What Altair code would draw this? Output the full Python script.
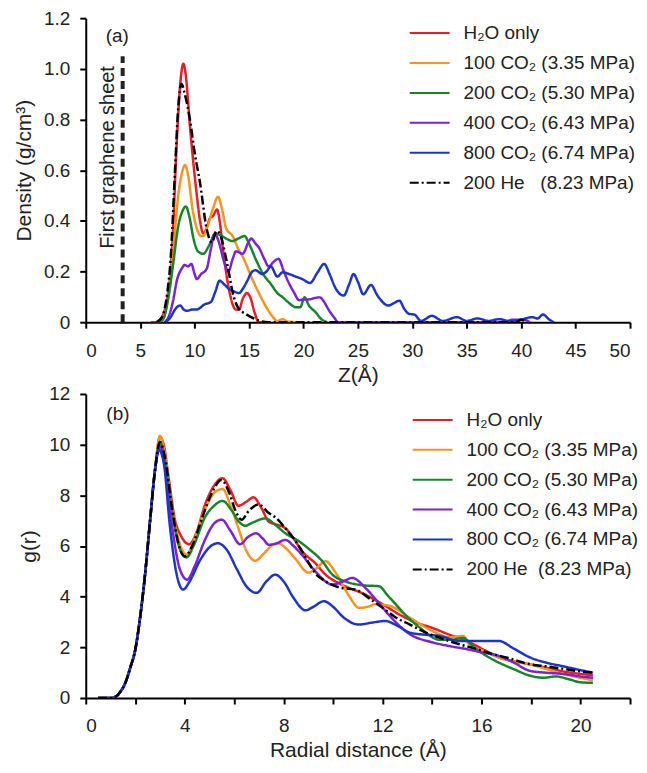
import altair as alt
import pandas as pd

# ---------------- series names, colours, dash patterns ----------------
series = ["\u00a0H\u2082O only", "100 CO\u2082 (3.35 MPa)", "200 CO\u2082 (5.30 MPa)",
          "400 CO\u2082 (6.43 MPa)", "800 CO\u2082 (6.74 MPa)", "200 He\u00a0\u00a0 (8.23 MPa)"]
colors = ["#ec1c24", "#f7931e", "#17862a", "#7a22d6", "#1c35c8", "#000000"]
dashes = [[1, 0], [1, 0], [1, 0], [1, 0], [1, 0], [9, 3, 2, 3]]

# ---------------- panel (a): density profiles ----------------
a_h2o_z = [6.0, 6.5, 7.0, 7.5, 7.75, 8.0, 8.36, 8.7, 8.97, 9.2, 9.58, 10.18, 10.5, 10.8, 11.1, 11.4, 11.7,
           12.06, 12.3, 12.6, 13.2, 13.8, 14.1, 14.4, 14.8, 15.1, 15.5, 15.9, 17.0]
a_h2o_v = [0, 0, 0.02, 0.1, 0.18, 0.35, 0.71, 0.95, 1.02, 0.97, 0.77, 0.51, 0.40, 0.35, 0.37, 0.41, 0.42,
           0.445, 0.40, 0.29, 0.12, 0.05, 0.05, 0.09, 0.115, 0.10, 0.04, 0.0, 0.0]

a_co100_z = [6.5, 7.0, 7.5, 8.0, 8.5, 8.9, 9.12, 9.4, 9.8, 10.2, 10.6, 10.8, 11.2, 11.7, 12.15, 12.5, 12.9,
             13.5, 14.0, 14.4, 15.3, 16.2, 17.1, 17.6, 18.1, 18.5, 19.5]
a_co100_v = [0, 0.01, 0.08, 0.27, 0.5, 0.6, 0.62, 0.58, 0.45, 0.37, 0.34, 0.34, 0.38, 0.45, 0.495, 0.45, 0.37,
             0.34, 0.29, 0.26, 0.17, 0.09, 0.026, 0.005, 0.012, 0.003, 0.0]

a_co200_z = [6.8, 7.2, 7.6, 8.0, 8.5, 8.9, 9.2, 9.5, 9.9, 10.3, 10.8, 11.3, 11.9, 12.3, 12.9, 13.5, 14.0,
             14.6, 15.0, 15.6, 16.2, 17.1, 17.6, 18.1, 18.7, 19.3, 19.7, 20.1, 20.5, 21.1, 21.7, 22.2]
a_co200_v = [0, 0.02, 0.1, 0.22, 0.38, 0.44, 0.457, 0.42, 0.33, 0.28, 0.27, 0.30, 0.35, 0.345, 0.33, 0.32, 0.33,
             0.34, 0.31, 0.25, 0.197, 0.145, 0.115, 0.098, 0.075, 0.059, 0.059, 0.098, 0.066, 0.04, 0.01, 0.0]

a_co400_z = [7.2, 7.6, 8.0, 8.4, 8.8, 9.1, 9.4, 9.7, 10.0, 10.2, 10.6, 11.1, 11.5, 11.85, 12.2, 12.7, 13.1,
             13.5, 13.8, 14.4, 15.0, 15.2, 15.6, 15.9, 16.4, 16.8, 17.3, 17.7, 18.2, 18.6, 19.1, 19.6, 20.1,
             20.5, 21.0, 21.5, 21.9, 22.3, 22.8, 23.2, 38.5, 39.2, 40.2, 40.8]
a_co400_v = [0, 0.02, 0.08, 0.17, 0.21, 0.226, 0.22, 0.23, 0.19, 0.17, 0.19, 0.21, 0.29, 0.35, 0.32, 0.24, 0.20,
             0.25, 0.28, 0.27, 0.32, 0.33, 0.31, 0.295, 0.25, 0.22, 0.24, 0.25, 0.20, 0.16, 0.12, 0.087, 0.09,
             0.09, 0.095, 0.098, 0.08, 0.05, 0.02, 0.0, 0.0, 0.01, 0.01, 0.0]

a_co800_z = [7.3, 7.8, 8.2, 8.67, 9.0, 9.3, 9.8, 10.2, 10.9, 11.5, 11.9, 12.3, 12.7, 13.2, 13.7, 14.1, 14.4,
             14.8, 15.3, 15.6, 16.2, 16.6, 17.0, 17.6, 18.1, 18.7, 19.3, 19.9, 20.6, 21.3, 21.9, 22.4, 22.9,
             23.7, 24.2, 24.6, 25.0, 25.5, 26.2, 26.8, 27.8, 28.3, 28.8, 29.3, 29.7, 30.2, 30.8, 31.8, 32.8,
             34.1, 35.0, 36.0, 37.0, 38.0, 39.0, 40.0, 41.0, 41.5, 42.0, 42.6, 43.0]
a_co800_v = [0, 0.02, 0.05, 0.066, 0.05, 0.045, 0.05, 0.05, 0.07, 0.08, 0.12, 0.164, 0.15, 0.13, 0.12, 0.115, 0.13,
             0.16, 0.20, 0.205, 0.19, 0.20, 0.22, 0.18, 0.197, 0.19, 0.18, 0.17, 0.155, 0.197, 0.23, 0.19, 0.138,
             0.105, 0.15, 0.19, 0.16, 0.11, 0.147, 0.105, 0.066, 0.075, 0.085, 0.05, 0.033, 0.03, 0.005, 0.025, 0.005,
             0.02, 0.005, 0.015, 0.005, 0.012, 0.004, 0.01, 0.02, 0.015, 0.03, 0.01, 0.0]

a_he_z = [6.5, 7.0, 7.5, 7.8, 8.2, 8.5, 8.8, 9.1, 9.57, 10.0, 10.5, 11.1, 11.6, 12.0, 12.3, 12.9, 13.6, 14.1,
          14.6, 15.2, 16.0, 16.8, 39.5, 40.0, 40.5]
a_he_v = [0, 0.02, 0.12, 0.25, 0.6, 0.85, 0.94, 0.9, 0.8, 0.67, 0.55, 0.37, 0.315, 0.36, 0.35, 0.25, 0.10, 0.05,
          0.035, 0.02, 0.005, 0.0, 0.0, 0.01, 0.0]

# ---------------- panel (b): radial distribution functions ----------------
rise_r = [0.5, 1.0, 1.2, 1.4, 1.6, 1.8, 2.0, 2.2, 2.4, 2.6, 2.8]
rise_g = [0, 0, 0.05, 0.25, 0.6, 1.2, 1.9, 3.2, 4.9, 7.0, 9.0]

b_h2o_r = rise_r + [3.0, 3.15, 3.35, 3.59, 3.85, 4.18, 4.5, 4.81, 5.2, 5.53, 5.85, 6.17, 6.5, 6.78, 7.1, 7.4, 7.7,
                    8.07, 8.4, 8.74, 9.3, 9.69, 10.3, 11.3, 12.0, 12.67, 13.3, 14.0, 14.7, 15.4, 16.1, 16.7,
                    17.3, 17.96, 18.6, 19.3, 20.0, 20.5]
b_h2o_g = rise_g + [10.3, 10.0, 8.7, 7.1, 6.4, 6.07, 6.6, 7.6, 8.4, 8.67, 8.2, 7.59, 7.75, 7.92, 7.5, 6.96, 6.85,
                    6.7, 6.3, 5.8, 5.3, 4.87, 4.5, 4.08, 3.7, 3.3, 3.0, 2.77, 2.5, 2.25, 1.9, 1.6,
                    1.45, 1.33, 1.2, 1.05, 0.95, 0.9]

b_co100_r = rise_r + [3.0, 3.2, 3.5, 3.8, 4.07, 4.4, 4.8, 5.2, 5.53, 5.85, 6.17, 6.5, 6.85, 7.2, 7.5, 7.8, 8.1,
                      8.47, 9.0, 9.3, 9.69, 10.1, 10.6, 11.05, 11.4, 11.7, 12.3, 13.1, 14.0, 14.7, 15.25, 15.5,
                      16.1, 16.7, 17.3, 17.96, 18.6, 19.3, 20.0, 20.5]
b_co100_g = rise_g + [10.35, 9.6, 7.4, 6.1, 5.65, 6.3, 7.4, 8.1, 8.25, 7.6, 6.7, 5.8, 5.42, 5.7, 6.0, 6.1, 5.9,
                      5.5, 4.95, 5.1, 5.4, 4.95, 4.1, 3.56, 3.6, 3.7, 3.63, 3.17, 2.65, 2.4, 2.45, 2.12,
                      1.85, 1.6, 1.45, 1.33, 1.15, 0.95, 0.8, 0.7]

b_co200_r = rise_r + [3.0, 3.2, 3.5, 3.8, 4.07, 4.4, 4.8, 5.2, 5.53, 5.9, 6.2, 6.44, 6.8, 7.25, 7.7, 8.07, 8.6,
                      9.0, 9.56, 9.96, 10.5, 11.2, 11.86, 12.2, 12.53, 13.0, 13.5, 14.3, 14.8, 15.25, 15.7,
                      16.2, 16.8, 17.3, 17.96, 18.5, 19.0, 19.5, 20.0, 20.5]
b_co200_g = rise_g + [10.1, 9.4, 7.3, 5.9, 5.55, 6.1, 7.1, 7.6, 7.78, 7.4, 6.95, 6.8, 6.95, 7.09, 6.8, 6.5, 6.2,
                      5.9, 5.4, 4.88, 4.6, 4.45, 4.41, 4.05, 3.7, 3.2, 2.78, 2.3, 2.3, 2.37, 2.0,
                      1.66, 1.35, 1.14, 0.88, 0.8, 0.85, 0.75, 0.62, 0.6]

b_co400_r = rise_r + [3.0, 3.2, 3.5, 3.8, 4.1, 4.4, 4.8, 5.2, 5.5, 5.85, 6.24, 6.55, 6.89, 7.15, 7.4, 7.7, 8.07,
                      8.4, 8.74, 9.28, 9.96, 10.4, 10.77, 11.3, 11.8, 12.3, 13.1, 14.0, 14.7, 15.4, 16.0, 16.7,
                      17.3, 17.96, 18.6, 19.3, 20.0, 20.5]
b_co400_g = rise_g + [9.95, 9.1, 6.7, 5.1, 4.67, 5.2, 6.2, 6.9, 7.04, 6.6, 6.07, 6.35, 6.5, 6.3, 6.05, 6.1, 6.24,
                      6.0, 5.65, 5.0, 4.48, 4.6, 4.74, 4.35, 3.8, 3.23, 2.52, 2.2, 2.05, 1.93, 1.8, 1.66,
                      1.4, 1.07, 1.0, 0.95, 0.85, 0.8]

b_co800_r = rise_r + [2.95, 3.15, 3.4, 3.65, 3.93, 4.2, 4.6, 5.0, 5.33, 5.7, 6.1, 6.5, 6.91, 7.3, 7.66, 8.0, 8.4,
                      8.88, 9.2, 9.62, 10.0, 10.4, 11.03, 11.6, 12.1, 12.6, 13.1, 13.7, 14.3, 15.1, 15.65, 16.2,
                      16.7, 17.3, 17.96, 18.6, 19.3, 20.0, 20.5]
b_co800_g = rise_g + [9.8, 9.3, 6.8, 5.0, 4.28, 4.6, 5.4, 5.95, 6.11, 5.85, 5.1, 4.4, 4.15, 4.6, 4.87, 4.6, 3.95,
                      3.46, 3.6, 3.82, 3.6, 3.2, 2.9, 2.98, 3.04, 2.85, 2.58, 2.5, 2.45, 2.25, 2.25, 2.25,
                      2.25, 1.95, 1.6, 1.4, 1.25, 1.1, 1.0]

b_he_r = rise_r + [3.0, 3.2, 3.5, 3.8, 4.0, 4.3, 4.7, 5.1, 5.49, 5.8, 6.05, 6.3, 6.6, 6.98, 7.4, 7.7, 8.07, 8.4,
                   8.74, 9.0, 9.3, 9.7, 10.3, 10.9, 11.5, 12.0, 12.5, 13.1, 13.7, 14.3, 15.0, 15.8, 16.4, 17.0,
                   17.96, 18.6, 19.3, 20.0, 20.5]
b_he_g = rise_g + [10.1, 9.5, 7.4, 5.9, 5.59, 6.0, 7.1, 8.1, 8.6, 8.1, 7.4, 7.04, 7.4, 7.64, 7.3, 7.1, 6.7, 6.3,
                   5.8, 5.35, 4.9, 4.6, 4.35, 4.28, 3.9, 3.56, 3.2, 2.9, 2.6, 2.38, 2.15, 1.93, 1.75, 1.6,
                   1.33, 1.25, 1.15, 1.05, 1.0]

# ---------------- annotations ----------------
a_label = {"x": 2.9, "y": 1.13, "text": "(a)"}
b_label = {"x": 1.3, "y": 11.2, "text": "(b)"}
sheet_z = 3.39
sheet_top = 1.05
sheet_text = {"x": 2.0, "y": 0.65, "text": "First graphene sheet"}

FONT = "Liberation Sans"


def long_df(xs_list, ys_list, xname, yname):
    rows = []
    for i, (xs, ys) in enumerate(zip(xs_list, ys_list)):
        for x, y in zip(xs, ys):
            rows.append({xname: x, yname: y, "series": series[i], "order": i})
    return pd.DataFrame(rows)


df_a = long_df([a_h2o_z, a_co100_z, a_co200_z, a_co400_z, a_co800_z, a_he_z],
               [a_h2o_v, a_co100_v, a_co200_v, a_co400_v, a_co800_v, a_he_v], "z", "v")
df_b = long_df([b_h2o_r, b_co100_r, b_co200_r, b_co400_r, b_co800_r, b_he_r],
               [b_h2o_g, b_co100_g, b_co200_g, b_co400_g, b_co800_g, b_he_g], "r", "g")

color_scale = alt.Scale(domain=series, range=colors)
dash_scale = alt.Scale(domain=series, range=dashes)


def legend(x, y, label_expr=None):
    kw = dict(title=None, orient="none", legendX=x, legendY=y, symbolType="M-2,0H2",
              symbolSize=400, symbolStrokeWidth=2, labelFont=FONT, labelFontSize=19,
              labelColor="#222222", labelOffset=23, rowPadding=9, padding=0, labelLimit=400)
    if label_expr:
        kw["labelExpr"] = label_expr
    return alt.Legend(**kw)


W = 546

# ---- panel a ----
xa = alt.X("z:Q", scale=alt.Scale(domain=[0, 50], nice=False),
           axis=alt.Axis(values=list(range(0, 51, 5)), title="Z(\u00c5)"))
ya = alt.Y("v:Q", scale=alt.Scale(domain=[0, 1.2], nice=False),
           axis=alt.Axis(values=[0, 0.2, 0.4, 0.6, 0.8, 1.0, 1.2], title="Density (g/cm\u00b3)",
                         labelExpr="datum.value == 0 ? '0' : format(datum.value, '.1f')"))

lines_a = alt.Chart(df_a).mark_line(strokeWidth=2.5, interpolate="monotone", clip=True).encode(
    x=xa, y=ya,
    color=alt.Color("series:N", scale=color_scale, legend=legend(334, 4)),
    strokeDash=alt.StrokeDash("series:N", scale=dash_scale, legend=legend(334, 4)),
    order="order:Q",
    detail="series:N",
)

sheet = alt.Chart(pd.DataFrame([{"z": sheet_z, "v0": 0, "v1": sheet_top}])).mark_rule(
    color="#222222", strokeWidth=4, strokeDash=[8, 5]).encode(x="z:Q", y="v0:Q", y2="v1:Q")

txt_a = alt.Chart(pd.DataFrame([a_label])).mark_text(font=FONT, fontSize=19, color="#222222").encode(
    x="x:Q", y="y:Q", text="text:N")
txt_sheet = alt.Chart(pd.DataFrame([sheet_text])).mark_text(
    font=FONT, fontSize=20, color="#222222", angle=270).encode(x="x:Q", y="y:Q", text="text:N")

panel_a = alt.layer(lines_a, sheet, txt_a, txt_sheet).properties(width=W, height=305)

# ---- panel b ----
xb = alt.X("r:Q", scale=alt.Scale(domain=[0, 22], nice=False),
           axis=alt.Axis(values=list(range(0, 23, 2)), title="Radial distance (\u00c5)",
                         labelExpr="datum.value % 4 == 0 ? datum.label : ''"))
yb = alt.Y("g:Q", scale=alt.Scale(domain=[0, 12], nice=False),
           axis=alt.Axis(values=list(range(0, 13, 2)), title="g(r)"))

he_b = "indexof(datum.label, 'He') >= 0 ? '\u00a0200 He\u00a0 (8.23 MPa)' : datum.label"
lines_b = alt.Chart(df_b).mark_line(strokeWidth=2.5, interpolate="monotone", clip=True).encode(
    x=xb, y=yb,
    color=alt.Color("series:N", scale=color_scale, legend=legend(337, 15, he_b)),
    strokeDash=alt.StrokeDash("series:N", scale=dash_scale, legend=legend(337, 15, he_b)),
    order="order:Q",
    detail="series:N",
)
txt_b = alt.Chart(pd.DataFrame([b_label])).mark_text(font=FONT, fontSize=19, color="#222222").encode(
    x="x:Q", y="y:Q", text="text:N")

panel_b = alt.layer(lines_b, txt_b).properties(width=W, height=305)

chart = alt.vconcat(panel_a, panel_b, spacing=0).resolve_legend(
    color="independent", strokeDash="independent"
).properties(
    padding={"left": 5, "top": 0, "right": 0, "bottom": 0}
).configure_view(strokeWidth=0).configure_axis(
    grid=False, domainColor="#000000", domainWidth=2, tickColor="#000000", tickWidth=2, tickSize=6,
    labelFont=FONT, labelFontSize=19, labelColor="#222222", labelPadding=3,
    titleFont=FONT, titleFontSize=21, titleFontWeight="normal", titleColor="#222222", titlePadding=6,
).configure_axisX(labelPadding=13, titlePadding=4).configure_axisY(labelPadding=10, titlePadding=9)

chart.save("out.html", embed_options={"renderer": "svg", "actions": False})
